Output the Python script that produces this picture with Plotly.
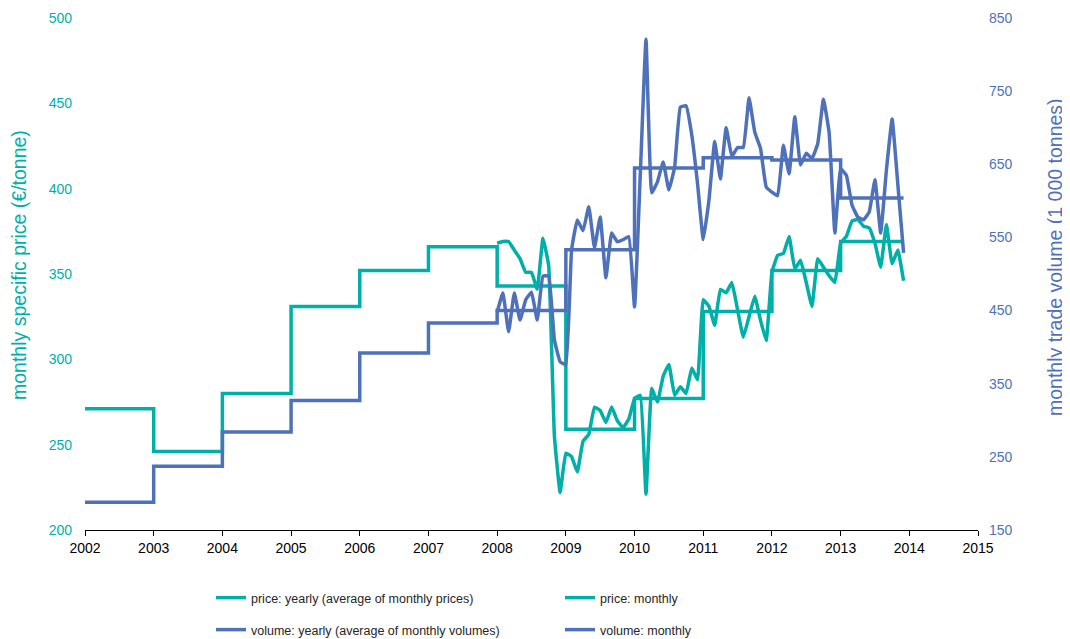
import plotly.graph_objects as go

# ---------------- data ----------------
years = [2002, 2003, 2004, 2005, 2006, 2007, 2008, 2009, 2010, 2011, 2012, 2013]
price_yearly = [271, 246, 280, 331, 352, 366, 343, 259, 277, 328, 352, 369]
volume_yearly = [188, 237, 284, 327, 392, 433, 450, 533, 645, 659, 656, 604]

monthly_years = [2008, 2009, 2010, 2011, 2012, 2013]
price_monthly = [
    368, 369, 369, 364, 359, 351, 351, 341, 371, 355, 255, 222,   # 2008
    245, 243, 234, 252, 256, 272, 270, 263, 272, 264, 260, 265,   # 2009
    277, 279, 221, 283, 275, 290, 297, 279, 284, 280, 295, 288,   # 2010
    335, 331, 320, 341, 339, 345, 329, 313, 325, 337, 323, 311,   # 2011
    351, 361, 362, 372, 353, 358, 345, 331, 359, 354, 349, 345,   # 2012
    368, 372, 381, 382, 378, 377, 368, 354, 379, 356, 364, 346,   # 2013
]
volume_monthly = [
    448, 474, 421, 474, 437, 465, 475, 437, 497, 497, 410, 380,   # 2008
    376, 533, 574, 559, 592, 536, 578, 495, 556, 544, 547, 551,   # 2009
    455, 635, 821, 611, 626, 653, 615, 646, 728, 730, 690, 624,   # 2010
    547, 601, 681, 630, 700, 661, 673, 673, 741, 694, 672, 619,   # 2011
    612, 607, 676, 637, 715, 649, 665, 658, 678, 739, 693, 556,   # 2012
    644, 635, 594, 578, 574, 585, 629, 556, 642, 712, 622, 529,   # 2013
]

x_ticks = list(range(2002, 2016))
price_ticks = [200, 250, 300, 350, 400, 450, 500]
volume_ticks = [150, 250, 350, 450, 550, 650, 750, 850]

names = [
    "price: yearly (average of monthly prices)",
    "price: monthly",
    "volume: yearly (average of monthly volumes)",
    "volume: monthly",
]
left_title = "monthly specific price (€/tonne)"
right_title = "monthly trade volume (1 000 tonnes)"

# ---------------- derived ----------------
months_x = [y + m / 12 for y in monthly_years for m in range(12)]
step_x = years + [months_x[-1]]
price_step = price_yearly + [price_yearly[-1]]
volume_step = volume_yearly + [volume_yearly[-1]]

TEAL = "#00AFA8"
BLUE = "#4F71BA"
FONT = "Liberation Sans, Arial, sans-serif"
SMOOTH = 0.3

fig = go.Figure()
fig.add_trace(go.Scatter(x=step_x, y=price_step, mode="lines", name=names[0],
                         line=dict(color=TEAL, width=3.5, shape="hv"), legend="legend"))
fig.add_trace(go.Scatter(x=months_x, y=price_monthly, mode="lines", name=names[1],
                         line=dict(color=TEAL, width=3.5, shape="spline", smoothing=SMOOTH),
                         legend="legend2"))
fig.add_trace(go.Scatter(x=step_x, y=volume_step, mode="lines", name=names[2], yaxis="y2",
                         line=dict(color=BLUE, width=3.5, shape="hv"), legend="legend3"))
fig.add_trace(go.Scatter(x=months_x, y=volume_monthly, mode="lines", name=names[3], yaxis="y2",
                         line=dict(color=BLUE, width=3.5, shape="spline", smoothing=SMOOTH),
                         legend="legend4"))

# page has an 8px body margin, so the figure is 8px smaller than the window
W, H = 1062, 631
L, R, T, B = 77, 92, 10, 109
pw, ph = W - L - R, H - T - B


def px_x(x):
    return (x - L) / pw


def px_y(y):
    return (H - B - y) / ph


leg_common = dict(orientation="h", xanchor="left", yanchor="middle",
                  font=dict(family=FONT, size=12.5, color="#262626"),
                  bgcolor="rgba(0,0,0,0)", itemwidth=30)

fig.update_layout(
    width=W, height=H,
    margin=dict(l=L, r=R, t=T, b=B, autoexpand=False),
    paper_bgcolor="white", plot_bgcolor="white",
    font=dict(family=FONT, size=14, color="black"),
    showlegend=True,
    legend=dict(x=px_x(203), y=px_y(590), **leg_common),
    legend2=dict(x=px_x(552), y=px_y(590), **leg_common),
    legend3=dict(x=px_x(203), y=px_y(622), **leg_common),
    legend4=dict(x=px_x(552), y=px_y(622), **leg_common),
    xaxis=dict(range=[2002, 2015], tickvals=x_ticks, ticktext=[str(v) for v in x_ticks],
               showgrid=False, zeroline=False, showline=True, linecolor="black", linewidth=1,
               ticks="outside", ticklen=5, tickcolor="black",
               tickfont=dict(family=FONT, size=14, color="black")),
    yaxis=dict(range=[200, 500], tickvals=price_ticks, showgrid=False, zeroline=False,
               showline=False, ticks="", ticklabelstandoff=12,
               tickfont=dict(family=FONT, size=14, color=TEAL)),
    yaxis2=dict(range=[150, 850], tickvals=volume_ticks, overlaying="y", side="right",
                showgrid=False, zeroline=False, showline=False, ticks="", ticklabelstandoff=10,
                tickfont=dict(family=FONT, size=14, color=BLUE)),
    annotations=[
        dict(text=left_title, textangle=-90, xref="paper", yref="paper",
             x=px_x(11), y=px_y(257), xanchor="center", yanchor="middle", showarrow=False,
             borderpad=0, font=dict(family=FONT, size=19.5, color=TEAL)),
        dict(text=right_title, textangle=-90, xref="paper", yref="paper",
             x=px_x(1047), y=px_y(249), xanchor="center", yanchor="middle", showarrow=False,
             borderpad=0, font=dict(family=FONT, size=19.5, color=BLUE)),
    ],
)

fig.write_html("out.html")
